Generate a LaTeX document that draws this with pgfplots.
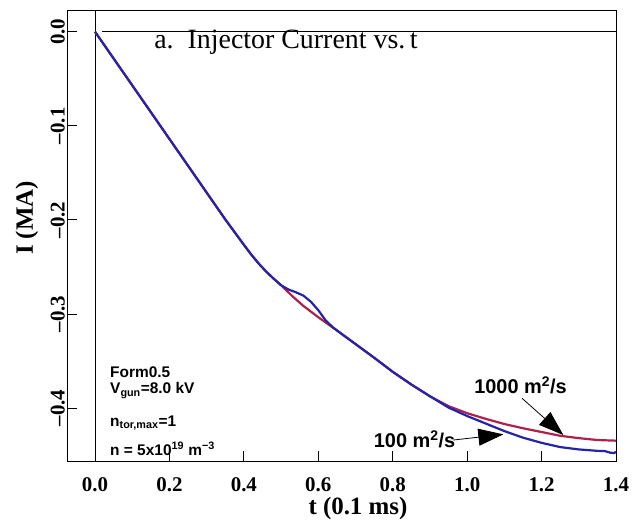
\documentclass[border=0pt]{standalone}
\usepackage{fontspec}
\setmainfont{Liberation Serif}
\setsansfont{Liberation Sans}
\usepackage{pgfplots}
\pgfplotsset{compat=1.18}
\usetikzlibrary{arrows.meta}
\definecolor{cred}{HTML}{B0204A}
\definecolor{cblue}{HTML}{2424A8}
\pgfplotstableread{
t I
0 0
0.05 -0.0285
0.1 -0.057
0.15 -0.0855
0.2 -0.114
0.25 -0.1425
0.3 -0.171
0.35 -0.1995
0.4 -0.2265
0.42 -0.2370
0.44 -0.2465
0.46 -0.2550
0.48 -0.2625
0.5 -0.2695
0.53 -0.2810
0.56 -0.2915
0.6 -0.3035
0.65 -0.3175
0.7 -0.3320
0.75 -0.3465
0.8 -0.3615
0.85 -0.375
0.9 -0.3875
0.95 -0.398
1.0 -0.4055
1.05 -0.4115
1.1 -0.417
1.15 -0.4215
1.2 -0.4255
1.25 -0.4295
1.3 -0.432
1.35 -0.434
1.4 -0.4347
}\redtab
\pgfplotstableread{
t I
0 0
0.05 -0.0285
0.1 -0.057
0.15 -0.0855
0.2 -0.114
0.25 -0.1425
0.3 -0.171
0.35 -0.1995
0.4 -0.2265
0.42 -0.2370
0.44 -0.2465
0.46 -0.2550
0.48 -0.2625
0.5 -0.2695
0.52 -0.2740
0.54 -0.2770
0.56 -0.2805
0.58 -0.2870
0.6 -0.2960
0.62 -0.3070
0.64 -0.3145
0.65 -0.3175
0.7 -0.3320
0.75 -0.3465
0.8 -0.3615
0.85 -0.375
0.9 -0.3875
0.95 -0.3995
1.0 -0.4085
1.05 -0.4165
1.1 -0.4245
1.15 -0.4315
1.2 -0.4370
1.25 -0.4415
1.3 -0.4440
1.35 -0.4455
1.37 -0.4458
1.385 -0.4475
1.395 -0.4478
1.4 -0.4465
}\bluetab
\begin{document}
\begin{tikzpicture}
\useasboundingbox (0,0) rectangle (635bp,521bp);
\begin{axis}[
  at={(67bp,60bp)}, anchor=south west,
  scale only axis, width=549bp, height=451bp,
  xmin=-0.0753, xmax=1.4, ymin=-0.4563, ymax=0.0231,
  clip=false,
  axis line style={black, line width=0.9bp},
  tick align=inside, major tick length=10bp,
  tick style={black, line width=0.8bp},
  xtick pos=bottom, ytick pos=left,
  xtick={0,0.2,0.4,0.6,0.8,1.0,1.2,1.4},
  xticklabels={0.0,0.2,0.4,0.6,0.8,1.0,1.2,1.4},
  ytick={-0.4,-0.3,-0.2,-0.1,0},
  yticklabels={–0.4,–0.3,–0.2,–0.1,0.0},
  xticklabel style={font=\bfseries\fontsize{21}{21}\selectfont, anchor=north, inner sep=0pt, yshift=-16bp},
  yticklabel style={font=\bfseries\fontsize{21}{21}\selectfont, rotate=90, anchor=south, inner sep=2pt},
  xlabel={t (0.1 ms)},
  xlabel style={font=\bfseries\fontsize{25}{25}\selectfont, at={(axis description cs:0.53,0)}, anchor=center, yshift=-48bp},
  ylabel={I (MA)},
  ylabel style={font=\bfseries\fontsize{25}{25}\selectfont, at={(axis description cs:-0.0729,0.539)}, anchor=center},
]
\addplot [black, line width=0.8bp] coordinates {(0,-0.4563) (0,0.0231)};
\addplot [black, line width=0.8bp] coordinates {(0.019,0) (1.4,0)};
\addplot [cred, line width=2.2bp] table [x=t, y=I] {\redtab};
\addplot [cblue, line width=2.2bp] table [x=t, y=I] {\bluetab};
\node[anchor=base west, font=\fontsize{28}{28}\selectfont] at (axis cs:0.150,-0.0173) {a.\ \ Injector Current vs.\,t};
\node[anchor=base west, font=\sffamily\bfseries\fontsize{15.5}{15.5}\selectfont] at (axis cs:0.0314,-0.3680) {Form0.5};
\node[anchor=base west, font=\sffamily\bfseries\fontsize{15.5}{15.5}\selectfont] at (axis cs:0.0314,-0.3850) {V\textsubscript{gun}=8.0 kV};
\node[anchor=base west, font=\sffamily\bfseries\fontsize{15.5}{15.5}\selectfont] at (axis cs:0.0314,-0.4199) {n\textsubscript{tor,max}=1};
\node[anchor=base west, font=\sffamily\bfseries\fontsize{15.5}{15.5}\selectfont] at (axis cs:0.0314,-0.4500) {n = 5x10\textsuperscript{19} m\textsuperscript{−3}};
\node[anchor=center, font=\sffamily\bfseries\fontsize{20}{20}\selectfont] at (axis cs:1.1435,-0.3756) {1000 m\textsuperscript{2}/s};
\node[anchor=center, font=\sffamily\bfseries\fontsize{20}{20}\selectfont] at (axis cs:0.8587,-0.4335) {100 m\textsuperscript{2}/s};
\draw[black, line width=0.8bp, -{Triangle[length=25bp,width=17bp]}] (axis cs:1.1476,-0.3897) -- (axis cs:1.2586,-0.4287);
\draw[black, line width=0.8bp, -{Triangle[length=25bp,width=17bp]}] (axis cs:0.963,-0.434) -- (axis cs:1.0973,-0.4280);
\end{axis}
\end{tikzpicture}
\end{document}
